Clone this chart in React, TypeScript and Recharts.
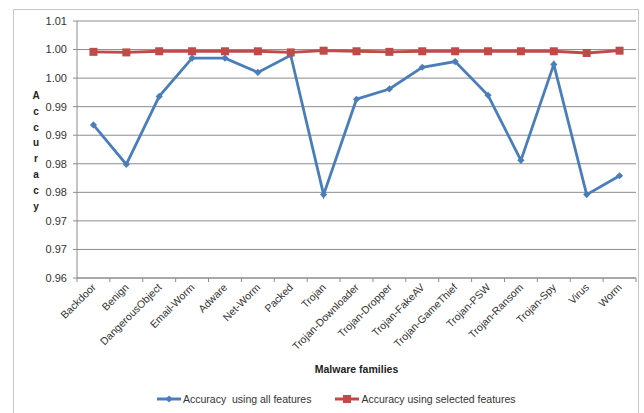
import { LineChart, Line, XAxis, YAxis, CartesianGrid } from "recharts";

const CATEGORIES = [
  "Backdoor",
  "Benign",
  "DangerousObject",
  "Email-Worm",
  "Adware",
  "Net-Worm",
  "Packed",
  "Trojan",
  "Trojan-Downloader",
  "Trojan-Dropper",
  "Trojan-FakeAV",
  "Trojan-GameThief",
  "Trojan-PSW",
  "Trojan-Ransom",
  "Trojan-Spy",
  "Virus",
  "Worm"
];

const ALL_FEATURES = [
  0.9868, 0.9799, 0.9918, 0.9985, 0.9985, 0.996, 0.999, 0.9746, 0.9913, 0.9931, 0.9969, 0.9979, 0.992,
  0.9806, 0.9974, 0.9746, 0.9779
];

const SELECTED_FEATURES = [
  0.9996, 0.9995, 0.9997, 0.9997, 0.9997, 0.9997, 0.9995, 0.9998, 0.9997, 0.9996, 0.9997, 0.9997, 0.9997,
  0.9997, 0.9997, 0.9994, 0.9998
];

const SERIES_NAMES = ["Accuracy  using all features", "Accuracy using selected features"];

const Y_TICKS = [0.96, 0.965, 0.97, 0.975, 0.98, 0.985, 0.99, 0.995, 1.0, 1.005];
const Y_TICK_LABELS = ["0.96", "0.97", "0.97", "0.98", "0.98", "0.99", "0.99", "1.00", "1.00", "1.01"];

const BLUE = "#4a7ebb";
const RED = "#be4b48";
const GRID = "#8c8c8c";
const FONT = "'Liberation Sans', Arial, sans-serif";

const PLOT_LEFT = 77;
const PLOT_RIGHT = 8;
const BAND = (644 - PLOT_LEFT - PLOT_RIGHT) / CATEGORIES.length;

const data = CATEGORIES.map((name, i) => ({
  name,
  all: ALL_FEATURES[i],
  selected: SELECTED_FEATURES[i]
}));

function Diamond({ cx, cy }: any) {
  if (cx == null || cy == null) return null;
  const r = 3.6;
  return <polygon points={`${cx},${cy - r} ${cx + r},${cy} ${cx},${cy + r} ${cx - r},${cy}`} fill={BLUE} />;
}

function Square({ cx, cy }: any) {
  if (cx == null || cy == null) return null;
  return <rect x={cx - 4} y={cy - 4} width={8} height={8} fill={RED} />;
}

function CategoryTick({ x, y, payload, index }: any) {
  const left = x - BAND / 2;
  return (
    <g>
      <line x1={left} y1={y} x2={left} y2={y + 4} stroke={GRID} />
      {index === CATEGORIES.length - 1 ? (
        <line x1={x + BAND / 2} y1={y} x2={x + BAND / 2} y2={y + 4} stroke={GRID} />
      ) : null}
      <text
        x={x + 3}
        y={y + 10}
        transform={`rotate(-45, ${x + 3}, ${y + 10})`}
        textAnchor="end"
        fontSize={10.5}
        fontFamily={FONT}
        fill="#333"
      >
        {payload.value}
      </text>
    </g>
  );
}

function YTitle() {
  const letters = "Accuracy".split("");
  return (
    <g>
      {letters.map((ch, i) => (
        <text
          key={i}
          x={36}
          y={99 + i * 15.8}
          textAnchor="middle"
          fontSize={10}
          fontWeight="bold"
          fontFamily={FONT}
          fill="#222"
        >
          {ch}
        </text>
      ))}
    </g>
  );
}

function XTitle({ viewBox }: any) {
  const { x, y, width } = viewBox;
  return (
    <text
      x={x + width / 2}
      y={y + 95}
      textAnchor="middle"
      fontSize={10.5}
      fontWeight="bold"
      fontFamily={FONT}
      fill="#222"
    >
      Malware families
    </text>
  );
}

function LegendBox() {
  return (
    <div
      style={{
        position: "absolute",
        top: 393,
        left: 157,
        display: "flex",
        alignItems: "center",
        fontFamily: FONT,
        fontSize: 10.5,
        color: "#333",
        whiteSpace: "pre"
      }}
    >
      <svg width={24} height={10}>
        <line x1={0} y1={5} x2={24} y2={5} stroke={BLUE} strokeWidth={3} />
        <polygon points="12,1.4 15.6,5 12,8.6 8.4,5" fill={BLUE} />
      </svg>
      <span style={{ marginLeft: 2 }}>{SERIES_NAMES[0]}</span>
      <svg width={24} height={10} style={{ marginLeft: 24 }}>
        <line x1={0} y1={5} x2={24} y2={5} stroke={RED} strokeWidth={3} />
        <rect x={8} y={1} width={8} height={8} fill={RED} />
      </svg>
      <span style={{ marginLeft: 2 }}>{SERIES_NAMES[1]}</span>
    </div>
  );
}

export default function App() {
  return (
    <div
      style={{
        position: "absolute",
        left: 0,
        top: 0,
        width: 644,
        height: 413,
        overflow: "hidden",
        background: "#fff"
      }}
    >
      <div
        style={{
          position: "absolute",
          left: 13,
          top: 9,
          width: 624,
          height: 420,
          border: "1px solid #c6c6c6"
        }}
      />
      <LineChart
        width={644}
        height={413}
        data={data}
        margin={{ top: 21, right: PLOT_RIGHT, left: 0, bottom: 75 }}
        style={{ position: "absolute", left: 0, top: 0 }}
      >
        <CartesianGrid vertical={false} stroke={GRID} strokeWidth={1} />
        <XAxis
          dataKey="name"
          interval={0}
          height={60}
          padding={{ left: BAND / 2, right: BAND / 2 }}
          tickSize={0}
          tickMargin={0}
          tickLine={false}
          axisLine={{ stroke: GRID }}
          tick={<CategoryTick />}
          label={<XTitle />}
        />
        <YAxis
          width={PLOT_LEFT}
          domain={[0.96, 1.005]}
          ticks={Y_TICKS}
          interval={0}
          tickSize={4}
          tickMargin={6}
          tickLine={{ stroke: GRID }}
          axisLine={{ stroke: GRID }}
          tickFormatter={(v: number, i: number) => Y_TICK_LABELS[i]}
          tick={{ fontSize: 11, fontFamily: FONT, fill: "#333" }}
          label={<YTitle />}
        />
        <Line
          dataKey="all"
          name={SERIES_NAMES[0]}
          stroke={BLUE}
          strokeWidth={2.8}
          dot={<Diamond />}
          activeDot={false}
          isAnimationActive={false}
        />
        <Line
          dataKey="selected"
          name={SERIES_NAMES[1]}
          stroke={RED}
          strokeWidth={2.8}
          dot={<Square />}
          activeDot={false}
          isAnimationActive={false}
        />
      </LineChart>
      <LegendBox />
    </div>
  );
}
